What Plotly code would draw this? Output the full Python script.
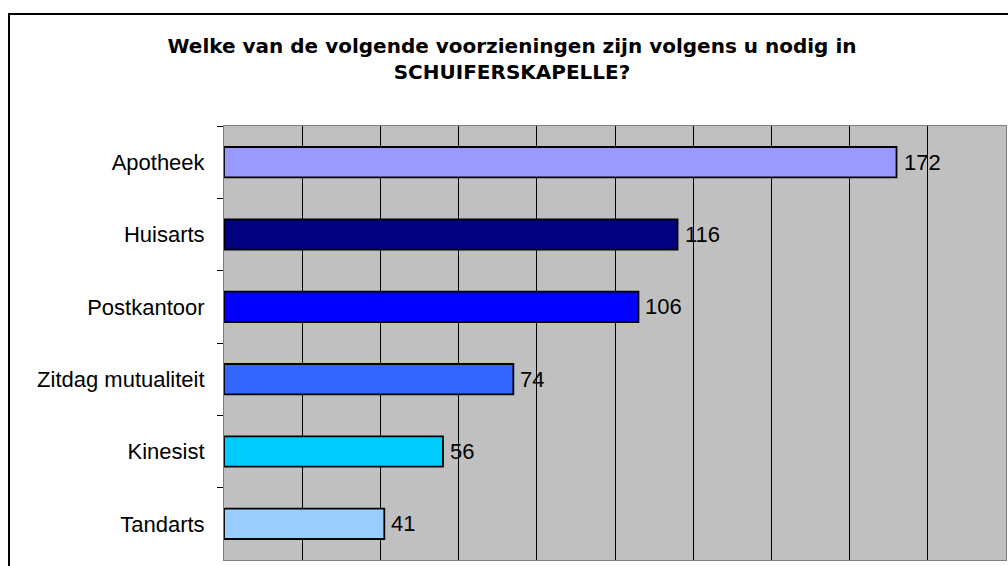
import plotly.graph_objects as go

categories = ["Apotheek", "Huisarts", "Postkantoor", "Zitdag mutualiteit", "Kinesist", "Tandarts"]
values = [172, 116, 106, 74, 56, 41]
colors = ["#9999FF", "#000080", "#0000FF", "#3366FF", "#00CCFF", "#99CCFF"]
title_lines = ["Welke van de volgende voorzieningen zijn volgens u nodig in", "SCHUIFERSKAPELLE?"]

W, H = 1008, 566
L, R, T, B = 224, 2, 126, 6
pw, ph = W - L - R, H - T - B

fig = go.Figure()
fig.add_trace(go.Bar(
    x=values, y=categories, orientation="h",
    marker=dict(color=colors, line=dict(color="black", width=1.8)),
    width=0.42, hoverinfo="skip",
))

for v, c in zip(values, categories):
    fig.add_annotation(x=v, y=c, xref="x", yref="y", text=str(v), showarrow=False,
                       xanchor="left", yanchor="middle", xshift=5,
                       font=dict(family="Liberation Sans, Arial", size=22, color="black"))

# outer chart frame (extends past the visible window on right/bottom)
fig.add_shape(type="rect", xref="paper", yref="paper",
              x0=(9 - L) / pw, x1=(W + 20 - L) / pw,
              y0=-(20 + B) / ph, y1=(H - B - 14) / ph,
              line=dict(color="black", width=2), fillcolor="rgba(0,0,0,0)", layer="above")

fig.update_layout(
    width=W, height=H,
    margin=dict(l=L, r=R, t=T, b=B, pad=0),
    paper_bgcolor="white", plot_bgcolor="#C0C0C0",
    showlegend=False,
    font=dict(family="Liberation Sans, Arial", size=22, color="black"),
    title=dict(text="<br>".join(title_lines), x=512 / W, xanchor="center",
               y=1 - 53 / H, yanchor="middle",
               font=dict(family="DejaVu Sans", size=20, color="black", weight="bold")),
    xaxis=dict(range=[0, 200], dtick=20, showgrid=True, gridcolor="black", gridwidth=1,
               showticklabels=False, ticks="", zeroline=False,
               showline=True, linecolor="#808080", linewidth=1, mirror=True, fixedrange=True),
    yaxis=dict(autorange="reversed", type="category", categoryorder="array", categoryarray=categories,
               tickson="boundaries", ticks="outside", ticklen=6, tickcolor="black", tickwidth=1,
               ticklabelstandoff=14, showgrid=False, zeroline=False,
               showline=True, linecolor="#808080", linewidth=1, mirror=True,
               tickfont=dict(size=22), fixedrange=True),
)

fig.write_html("out.html", config={"displayModeBar": False},
               post_script="document.body.style.margin='0px';document.body.style.overflow='hidden';")
